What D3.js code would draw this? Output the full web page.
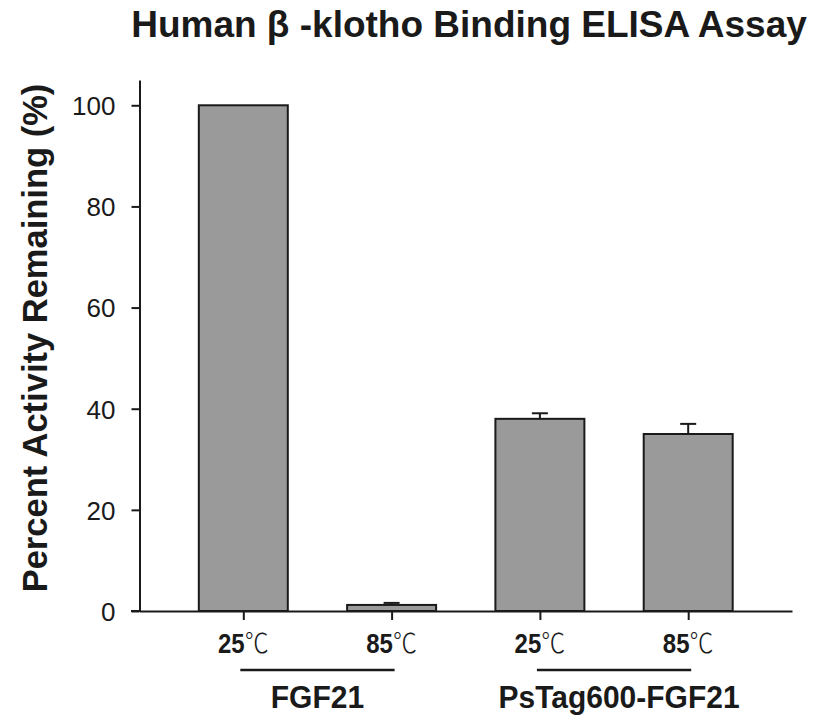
<!DOCTYPE html>
<html><head><meta charset="utf-8">
<script src="https://cdn.jsdelivr.net/npm/d3@7"></script>
<style>body{margin:0;background:#fff}svg{display:block}</style>
</head><body>
<script>
const categories = ["25", "85", "25", "85"];
const groups = ["FGF21", "PsTag600-FGF21"];
const values = [100, 1.2, 38, 35];
const errors = [0, 0.4, 1.1, 2.0];
const yTicks = [0, 20, 40, 60, 80, 100];

const W = 816, H = 715;
const svg = d3.select("body").append("svg").attr("width", W).attr("height", H);
const x = d3.scaleLinear().domain([0.3, 4.7]).range([139.5, 792]);
const y = d3.scaleLinear().domain([0, 105]).range([611, 80]);
const barW = 0.6;
const ink = "#1a1a1a";
const SANS = "Liberation Sans, Arial, sans-serif";

// bars
svg.selectAll("rect.bar").data(values).enter().append("rect")
  .attr("x", (d,i) => x(i+1-barW/2)).attr("width", x(barW)-x(0))
  .attr("y", d => y(d)).attr("height", d => y(0)-y(d))
  .attr("fill", "#9a9a9a").attr("stroke", ink).attr("stroke-width", 2);

// error bars
values.forEach((v,i) => {
  if (errors[i] <= 0) return;
  const cx = x(i+1);
  svg.append("line").attr("x1", cx).attr("x2", cx).attr("y1", y(v)).attr("y2", y(v+errors[i]))
    .attr("stroke", ink).attr("stroke-width", 2);
  svg.append("line").attr("x1", cx-8).attr("x2", cx+8).attr("y1", y(v+errors[i])).attr("y2", y(v+errors[i]))
    .attr("stroke", ink).attr("stroke-width", 2);
});

// y axis
const ya = svg.append("g").attr("transform", "translate(139.5,0)")
  .call(d3.axisLeft(y).tickValues(yTicks).tickSize(8).tickSizeOuter(0).tickPadding(16));
ya.select(".domain").attr("stroke", ink).attr("stroke-width", 2);
ya.selectAll(".tick line").attr("stroke", ink).attr("stroke-width", 2);
ya.selectAll(".tick text").attr("font-family", SANS)
  .attr("font-size", 26).attr("fill", ink).attr("dy", "0.36em");

// x axis
const xa = svg.append("g").attr("transform", "translate(0,611)")
  .call(d3.axisBottom(x).tickValues([1,2,3,4]).tickSize(9).tickSizeOuter(0).tickFormat(""));
xa.select(".domain").attr("stroke", ink).attr("stroke-width", 2);
xa.selectAll(".tick line").attr("stroke", ink).attr("stroke-width", 2);
svg.append("line").attr("x1", 131).attr("x2", 140).attr("y1", 611).attr("y2", 611)
  .attr("stroke", ink).attr("stroke-width", 2);

// category labels
categories.forEach((c,i) => {
  const t = svg.append("text").attr("transform", `translate(${x(i+1)},653) scale(1,1.15)`)
    .attr("text-anchor", "middle").attr("fill", ink);
  t.append("tspan").text(c).attr("font-family", SANS)
    .attr("font-weight", "bold").attr("font-size", 24);
  t.append("tspan").text("℃").attr("font-family", "Noto Sans CJK SC").attr("font-weight", 300)
    .attr("font-size", 24);
});

// group lines & labels
groups.forEach((g,gi) => {
  const a = x(gi*2+1), b = x(gi*2+2);
  svg.append("line").attr("x1", a-3).attr("x2", b+3).attr("y1", 670).attr("y2", 670)
    .attr("stroke", ink).attr("stroke-width", 2.5);
  svg.append("text").attr("transform", `translate(${(a+b)/2 + (gi ? 5 : 0)},708) scale(1,1.07)`)
    .attr("text-anchor", "middle")
    .attr("font-family", SANS).attr("font-weight", "bold")
    .attr("font-size", 30).attr("fill", ink).text(g);
});

// y label
svg.append("text").attr("transform", "translate(47,338) rotate(-90)").attr("text-anchor", "middle")
  .attr("font-family", SANS).attr("font-weight", "bold")
  .attr("font-size", 34.5).attr("fill", ink).text("Percent Activity Remaining (%)");

// title
svg.append("text").attr("x", 469).attr("y", 37).attr("text-anchor", "middle")
  .attr("font-family", SANS).attr("font-weight", "bold")
  .attr("font-size", 37).attr("fill", ink).text("Human β -klotho Binding ELISA Assay");
</script>
</body></html>
